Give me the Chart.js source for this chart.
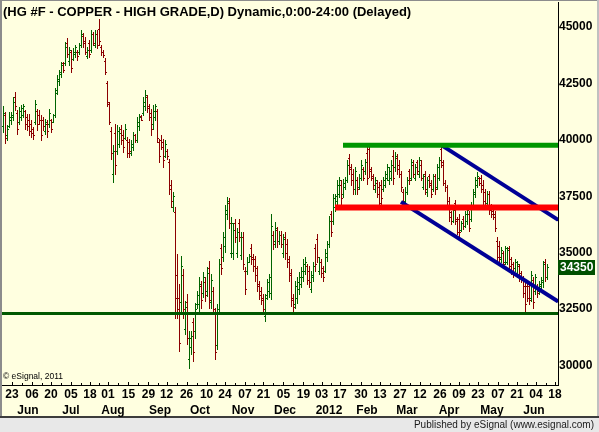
<!DOCTYPE html>
<html>
<head>
<meta charset="utf-8">
<title>HG #F - Copper - High Grade</title>
<script src="https://cdn.jsdelivr.net/npm/chart.js@4/dist/chart.umd.min.js"></script>
<style>
  body { margin: 0; background: #fff; }
  canvas { display: block; }
</style>
</head>
<body>
<canvas id="chart" width="599" height="432"></canvas>
<script>
// daily bars, index 0 = first bar on the left (mid May 2011)
const highs = [
  41480, 41240, 40650, 41240, 41240, 41900, 42130, 41310, 41460, 41530,
  41610, 41310, 41160, 41160, 40870, 40570, 41760, 41390, 41310, 41090,
  41010, 40940, 40870, 41390, 40940, 41160, 42280, 42870, 43090, 43460,
  43460, 44350, 44500, 44130, 43980, 44060, 44200, 43980, 44280, 44870,
  44720, 44570, 44130, 44430, 44870, 44800, 44870, 44870, 45350, 44200,
  43980, 43630, 42600, 41700, 40570, 39760, 40720, 40650, 40570, 40650,
  40420, 40720, 40120, 40050, 39980, 40350, 40280, 41010, 41160, 41090,
  41900, 42200, 41980, 41610, 41390, 41530, 41610, 41390, 40050, 40200,
  40050, 39980, 39610, 39160, 38200, 37680, 37010, 34940, 33610, 34860,
  34270, 32860, 33160, 31530, 31530, 32120, 32780, 33310, 33900, 33750,
  34120, 33900, 34350, 34640, 34050, 33460, 32560, 32710, 34710, 35400,
  35900, 37090, 37460, 37400, 36570, 36290, 36510, 36070, 36510, 35900,
  35900, 34350, 34790, 34940, 35380, 34940, 34860, 34420, 33750, 33460,
  33160, 33160, 33830, 34050, 36710, 35970, 36340, 36120, 35970, 35970,
  35830, 35900, 35600, 34860, 34270, 33160, 33750, 33900, 34120, 34350,
  34710, 34790, 34490, 34420, 34200, 34570, 35380, 35830, 34790, 34710,
  34420, 35160, 35530, 36640, 36860, 37610, 37610, 38200, 38340, 38200,
  38270, 38340, 39090, 39390, 38940, 38720, 38790, 38340, 38500, 39090,
  38790, 39160, 39680, 39830, 38790, 38500, 38340, 38200, 38120, 38200,
  38340, 38640, 38940, 38790, 39090, 39530, 39460, 39390, 39090, 38640,
  37830, 37900, 38340, 38720, 39160, 39090, 38940, 39090, 39240, 39090,
  38500, 38640, 38340, 38500, 38200, 38500, 38500, 38940, 39240, 39760,
  39090, 38200, 37980, 37460, 36860, 37090, 37310, 36570, 36710, 36420,
  36640, 36860, 37090, 36860, 37230, 37830, 38340, 38570, 38340, 38420,
  38200, 37830, 37750, 37750, 37160, 36940, 36860, 35680, 35530, 35230,
  35090, 35310, 35230, 35310, 34790, 34570, 34710, 34640, 34490, 34200,
  33970, 33750, 33600, 33680, 34200, 33900, 34050, 33600, 33750, 33900,
  34640, 34710, 34490
];
const lows = [
  40350, 39880, 39980, 40570, 40720, 40870, 41310, 40280, 40720, 40870,
  41010, 40500, 40420, 40200, 40120, 40050, 40720, 40420, 40720, 39980,
  40420, 40280, 40120, 40570, 40350, 40790, 41010, 42050, 42420, 42790,
  43020, 43310, 43680, 43310, 43020, 43540, 43680, 43540, 43830, 44130,
  44130, 43830, 43610, 43680, 43910, 44200, 44130, 44060, 44200, 43760,
  43680, 42900, 41500, 40720, 39160, 38120, 38490, 39390, 39680, 39830,
  39460, 40050, 39240, 39240, 39310, 39530, 39900, 39900, 40420, 40870,
  41090, 41310, 41240, 40870, 40200, 40500, 40870, 39900, 39010, 39610,
  38790, 39240, 39160, 37610, 37010, 36860, 32120, 32120, 30640, 32420,
  32120, 31380, 30930, 29890, 30490, 30190, 31230, 32560, 32340, 32560,
  33010, 32860, 33080, 32560, 32560, 32270, 30270, 30710, 32270, 34060,
  34640, 35010, 36500, 36070, 34790, 34730, 35450, 34790, 35530, 34730,
  34270, 33160, 34050, 34570, 34490, 34200, 33750, 33310, 32940, 32710,
  32270, 31970, 32940, 33010, 32940, 35160, 35230, 35230, 35380, 35230,
  34790, 34710, 34350, 33750, 32640, 32340, 32560, 32780, 33160, 33460,
  33750, 34050, 33600, 33460, 33230, 33750, 34200, 34570, 34050, 33900,
  33750, 34120, 34640, 35230, 35750, 36280, 36860, 37160, 37460, 37160,
  37460, 37830, 38120, 38500, 37980, 37610, 37610, 37610, 37830, 38200,
  38200, 38500, 38050, 38340, 38200, 37830, 37680, 37460, 36940, 37160,
  37750, 37900, 38200, 38050, 38200, 38050, 38640, 38500, 38340, 37750,
  37010, 37160, 37610, 38050, 38200, 38340, 38200, 38500, 38340, 38200,
  37830, 37610, 37530, 37900, 37460, 37750, 37610, 37830, 38200, 38790,
  37980, 37750, 37160, 36420, 36280, 36340, 36280, 35830, 35680, 35970,
  36050, 36120, 36280, 35970, 36420, 36940, 37460, 37900, 37980, 37680,
  37160, 36940, 37160, 36710, 36570, 36490, 35970, 34640, 34570, 34570,
  34350, 34490, 34490, 34200, 34050, 33900, 34200, 33900, 33750, 33680,
  33010, 32340, 32860, 32710, 32860, 32560, 33160, 33010, 33160, 33310,
  33460, 33750, 33830
];
const opens = [
  40600, 41100, 40200, 40600, 40900, 41000, 41900, 41200, 40800, 41000,
  41100, 41300, 41000, 40900, 40700, 40500, 40800, 41300, 41100, 40900,
  40900, 40400, 40700, 40700, 40900, 40800, 41100, 42200, 42600, 42900,
  43400, 43400, 44300, 43500, 43900, 43600, 43800, 43900, 43900, 44200,
  44600, 44400, 43700, 44300, 44000, 44700, 44200, 44700, 44900, 44100,
  43900, 43500, 42500, 41600, 40400, 38500, 40300, 39500, 39800, 40500,
  40200, 40100, 40000, 39900, 39400, 39700, 40200, 40000, 40600, 41050,
  41200, 41500, 41900, 41500, 41200, 40700, 41000, 41300, 39900, 40000,
  39900, 39300, 39500, 39000, 38000, 37000, 36800, 34000, 33000, 32800,
  34000, 31600, 32800, 30300, 30800, 31900, 31500, 32700, 32700, 33500,
  33200, 33700, 33300, 34300, 32800, 33300, 32300, 30900, 32500, 35200,
  34800, 35300, 36700, 37200, 35000, 35000, 36300, 35000, 36300, 34900,
  35700, 34200, 34200, 34600, 35200, 34800, 34700, 34300, 33600, 33300,
  33000, 32200, 33100, 33300, 33200, 35800, 35500, 36000, 35500, 35800,
  35000, 35700, 35400, 34700, 34100, 33000, 32700, 33000, 33400, 33600,
  33900, 34200, 34400, 34200, 33400, 33900, 35200, 35600, 34200, 34600,
  34300, 34200, 34800, 35400, 36700, 36400, 37000, 37300, 37600, 38000,
  37600, 37900, 38200, 39200, 38800, 38500, 37800, 38200, 37900, 38300,
  38700, 38600, 39400, 39600, 38700, 38400, 37800, 38100, 37900, 38000,
  37800, 38000, 38300, 38200, 38300, 39300, 38800, 39200, 38900, 38500,
  37700, 37300, 37700, 38600, 38300, 38900, 38300, 39000, 38500, 38900,
  37900, 38500, 37700, 38400, 38100, 37800, 38400, 37900, 38300, 39600,
  38900, 38100, 37900, 37300, 36800, 36400, 37200, 36400, 36500, 36000,
  36500, 36200, 36400, 36700, 36500, 37000, 37600, 38000, 38300, 38300,
  38000, 37700, 37200, 37600, 37000, 36850, 36700, 35500, 35300, 34700,
  35000, 34600, 34600, 35200, 34700, 34500, 34300, 34000, 34400, 34100,
  33900, 33500, 33500, 33500, 33000, 33800, 33300, 33500, 33300, 33500,
  33700, 34600, 33900
];
const closes = [
  41200, 40100, 40500, 41000, 41100, 41700, 41500, 40500, 41300, 41400,
  41500, 40700, 40600, 40400, 40300, 40200, 41600, 40700, 40900, 40200,
  40600, 40800, 40400, 41200, 40500, 41100, 42100, 42700, 43000, 43300,
  43100, 44100, 43800, 44000, 43200, 43900, 44100, 43700, 44200, 44700,
  44300, 43900, 44000, 43800, 44700, 44300, 44700, 44200, 44400, 43900,
  43750, 43000, 41700, 40800, 39400, 39500, 38900, 40400, 40300, 40000,
  39700, 40500, 39400, 39500, 39800, 40200, 40000, 40800, 41000, 40900,
  41700, 42000, 41400, 41000, 40500, 41300, 41500, 40100, 39300, 39700,
  39100, 39800, 39300, 37800, 37300, 37500, 33000, 32500, 31000, 34400,
  32500, 32600, 31200, 31200, 31300, 30600, 32500, 33100, 33600, 32900,
  33900, 33100, 34100, 32900, 33800, 32500, 30600, 32500, 34500, 34300,
  35700, 36900, 37300, 36300, 36300, 36000, 35700, 35900, 35700, 35700,
  34500, 33400, 34600, 34850, 34700, 34400, 34000, 33500, 33100, 32900,
  32500, 33000, 33700, 33900, 36200, 35400, 36100, 35500, 35800, 35400,
  35600, 35000, 34600, 34000, 32900, 32600, 33500, 33700, 33900, 34200,
  34500, 34600, 33800, 33700, 34000, 34400, 34500, 34800, 34600, 34100,
  33900, 35000, 35400, 36400, 35900, 37400, 37500, 38000, 38200, 37400,
  38100, 38200, 38900, 38700, 38200, 37800, 38600, 37800, 38300, 38900,
  38300, 39000, 38300, 38600, 38300, 38000, 38200, 37600, 37200, 37400,
  38200, 38500, 38800, 38600, 38900, 38300, 39300, 38700, 38500, 37900,
  37200, 37700, 38200, 38200, 39000, 38500, 38800, 38600, 39100, 38300,
  38400, 37800, 38200, 38000, 37600, 38400, 37800, 38800, 39100, 39000,
  38100, 37900, 37300, 36600, 36400, 36900, 36500, 35900, 35900, 36300,
  36200, 36700, 36900, 36100, 37100, 37700, 38200, 38400, 38100, 37800,
  37300, 37100, 37600, 36900, 36700, 36600, 36100, 34800, 34800, 35100,
  34500, 35200, 35100, 34400, 34200, 34000, 34600, 34500, 33900, 33800,
  33200, 32700, 33000, 32900, 34000, 32800, 33900, 33200, 33600, 33800,
  34500, 33900, 34350
];

// drawn study lines, [bar index, price]
const resistanceHigh = [[170, 39760], [277.5, 39760]];
const resistanceMid = [[166, 37000], [277.5, 37000]];
const supportLow = [[-0.5, 32300], [277.5, 32300]];
const channelUpper = [[219.4, 39755], [277.6, 36450]];
const channelLower = [[199, 37250], [277.6, 32830]];

// axis labels
const yTicks = [30000, 32500, 35000, 37500, 40000, 42500, 45000];
const dateTicks = [4.5, 14.5, 24, 34, 43.5, 52.5, 62.7, 72.7, 81.8, 91.8, 101.8, 111, 121, 130.2,
  140.2, 150.2, 159.3, 168.5, 179, 188.5, 198.5, 208.5, 218.5, 228, 237.5, 247.5, 257, 266.5, 276];
const dateLabels = ['23', '06', '20', '05', '18', '01', '15', '29', '12', '26', '10', '24', '07', '21',
  '05', '19', '03', '17', '30', '13', '27', '12', '26', '09', '23', '07', '21', '04', '18'];
const monthTicks = [12.5, 34, 55, 78.5, 98.5, 120, 141, 163, 182, 202, 223, 244.5, 265.5];
const monthLabels = ['Jun', 'Jul', 'Aug', 'Sep', 'Oct', 'Nov', 'Dec', '2012', 'Feb', 'Mar', 'Apr', 'May', 'Jun'];

const FONT = "'Liberation Sans', Arial, sans-serif";
const UP = '#006400';
const DOWN = '#8b0000';

const toPts = arr => arr.map(p => ({ x: p[0], y: p[1] }));

function lineSet(pts, color, width) {
  return {
    data: toPts(pts),
    borderColor: color,
    borderWidth: width,
    pointRadius: 0,
    tension: 0,
    fill: false
  };
}

// yellow chart paper, frame and status strip
const paper = {
  id: 'paper',
  beforeDraw(chart) {
    const ctx = chart.ctx;
    ctx.save();
    ctx.fillStyle = '#ffffe0';
    ctx.fillRect(0, 0, 599, 417);
    ctx.fillStyle = '#e8e8e8';
    ctx.fillRect(0, 418, 599, 14);
    ctx.fillStyle = '#3c3c3c';
    ctx.fillRect(0, 416, 599, 2);
    ctx.fillStyle = '#8c8c8c';
    ctx.fillRect(0, 0, 2, 416);
    ctx.fillRect(0, 0, 599, 1);
    ctx.fillStyle = '#c0c0c0';
    ctx.fillRect(597, 0, 2, 416);
    ctx.restore();
  }
};

// OHLC bars
const ohlc = {
  id: 'ohlc',
  beforeDatasetsDraw(chart) {
    const { ctx, chartArea } = chart;
    const xs = chart.scales.x, ys = chart.scales.y;
    ctx.save();
    ctx.beginPath();
    ctx.rect(chartArea.left, chartArea.top, chartArea.width, chartArea.height);
    ctx.clip();
    for (let i = 0; i < highs.length; i++) {
      const x = Math.round(xs.getPixelForValue(i));
      const yh = Math.round(ys.getPixelForValue(highs[i]));
      const yl = Math.round(ys.getPixelForValue(lows[i]));
      ctx.fillStyle = closes[i] >= opens[i] ? UP : DOWN;
      ctx.fillRect(x, yh, 1, yl - yh + 1);
      ctx.fillRect(x - 1, Math.round(ys.getPixelForValue(opens[i])), 1, 1);
      ctx.fillRect(x + 1, Math.round(ys.getPixelForValue(closes[i])), 1, 1);
    }
    ctx.restore();
  },
  afterDraw(chart) {
    const { ctx, chartArea } = chart;
    const xs = chart.scales.x, ys = chart.scales.y;
    ctx.save();
    // tick marks on the time axis
    ctx.fillStyle = '#000';
    dateTicks.forEach((t, i) => {
      const x = Math.round(xs.getPixelForValue(t));
      ctx.fillRect(x, chartArea.bottom - 3, 1, 3);
      if (i > 0) {
        const m = Math.round(xs.getPixelForValue((t + dateTicks[i - 1]) / 2));
        ctx.fillRect(m, chartArea.bottom - 2, 1, 2);
      }
    });
    // title
    ctx.font = 'bold 13px ' + FONT;
    ctx.textBaseline = 'middle';
    ctx.textAlign = 'left';
    ctx.fillText('(HG #F - COPPER - HIGH GRADE,D) Dynamic,0:00-24:00 (Delayed)', 3, 12);
    ctx.font = '8.5px ' + FONT;
    ctx.fillText('\u00a9 eSignal, 2011', 3, 377);
    // last price marker
    const last = closes[closes.length - 1];
    const yl = Math.round(ys.getPixelForValue(last));
    ctx.fillStyle = '#005000';
    ctx.fillRect(chartArea.right, yl - 7, 37, 15);
    ctx.fillStyle = '#fff';
    ctx.font = 'bold 12px ' + FONT;
    ctx.fillText(String(last), chartArea.right + 2, yl + 1);
    // status strip
    ctx.fillStyle = '#1a1a1a';
    ctx.font = '10px ' + FONT;
    ctx.textAlign = 'right';
    ctx.fillText('Published by eSignal (www.esignal.com)', 594, 425);
    ctx.restore();
  }
};

const axisFont = { family: FONT, size: 12, weight: 'bold' };

new Chart(document.getElementById('chart'), {
  type: 'line',
  data: {
    datasets: [
      lineSet(supportLow, '#005800', 3),
      lineSet(resistanceMid, '#ff0000', 6),
      lineSet(resistanceHigh, '#009600', 5),
      lineSet(channelUpper, '#000096', 4),
      lineSet(channelLower, '#000096', 4)
    ]
  },
  options: {
    responsive: false,
    devicePixelRatio: 1,
    animation: false,
    layout: { padding: { left: 2, top: 2, right: 0, bottom: 15 } },
    plugins: {
      legend: { display: false },
      tooltip: { enabled: false },
      title: { display: false }
    },
    scales: {
      x: {
        type: 'linear',
        position: 'bottom',
        weight: 0,
        min: -0.5,
        max: 277.5,
        grid: { display: false, drawTicks: false },
        border: { display: true, color: '#000', width: 1 },
        afterBuildTicks: s => { s.ticks = dateTicks.map(v => ({ value: v })); },
        afterFit: s => { s.height = 17; s.paddingLeft = 0; s.paddingRight = 0; },
        ticks: {
          autoSkip: false, maxRotation: 0, minRotation: 0, padding: 2,
          color: '#000', font: axisFont,
          callback: (v, i) => dateLabels[i]
        }
      },
      xm: {
        type: 'linear',
        axis: 'x',
        position: 'bottom',
        weight: 1,
        min: -0.5,
        max: 277.5,
        grid: { display: false, drawTicks: false },
        border: { display: false },
        afterBuildTicks: s => { s.ticks = monthTicks.map(v => ({ value: v })); },
        afterFit: s => { s.height = 15; s.paddingLeft = 0; s.paddingRight = 0; },
        ticks: {
          autoSkip: false, maxRotation: 0, minRotation: 0, padding: 1,
          color: '#000', font: axisFont,
          callback: (v, i) => monthLabels[i]
        }
      },
      y: {
        type: 'linear',
        position: 'right',
        min: 29126,
        max: 46115,
        grid: { display: false, drawTicks: false },
        border: { display: true, color: '#000', width: 1 },
        afterBuildTicks: s => { s.ticks = yTicks.map(v => ({ value: v })); },
        afterFit: s => { s.width = 41; s.paddingTop = 0; s.paddingBottom = 0; },
        ticks: {
          padding: 1, color: '#000', font: axisFont,
          callback: v => String(v)
        }
      }
    }
  },
  plugins: [paper, ohlc]
});
</script>
</body>
</html>
